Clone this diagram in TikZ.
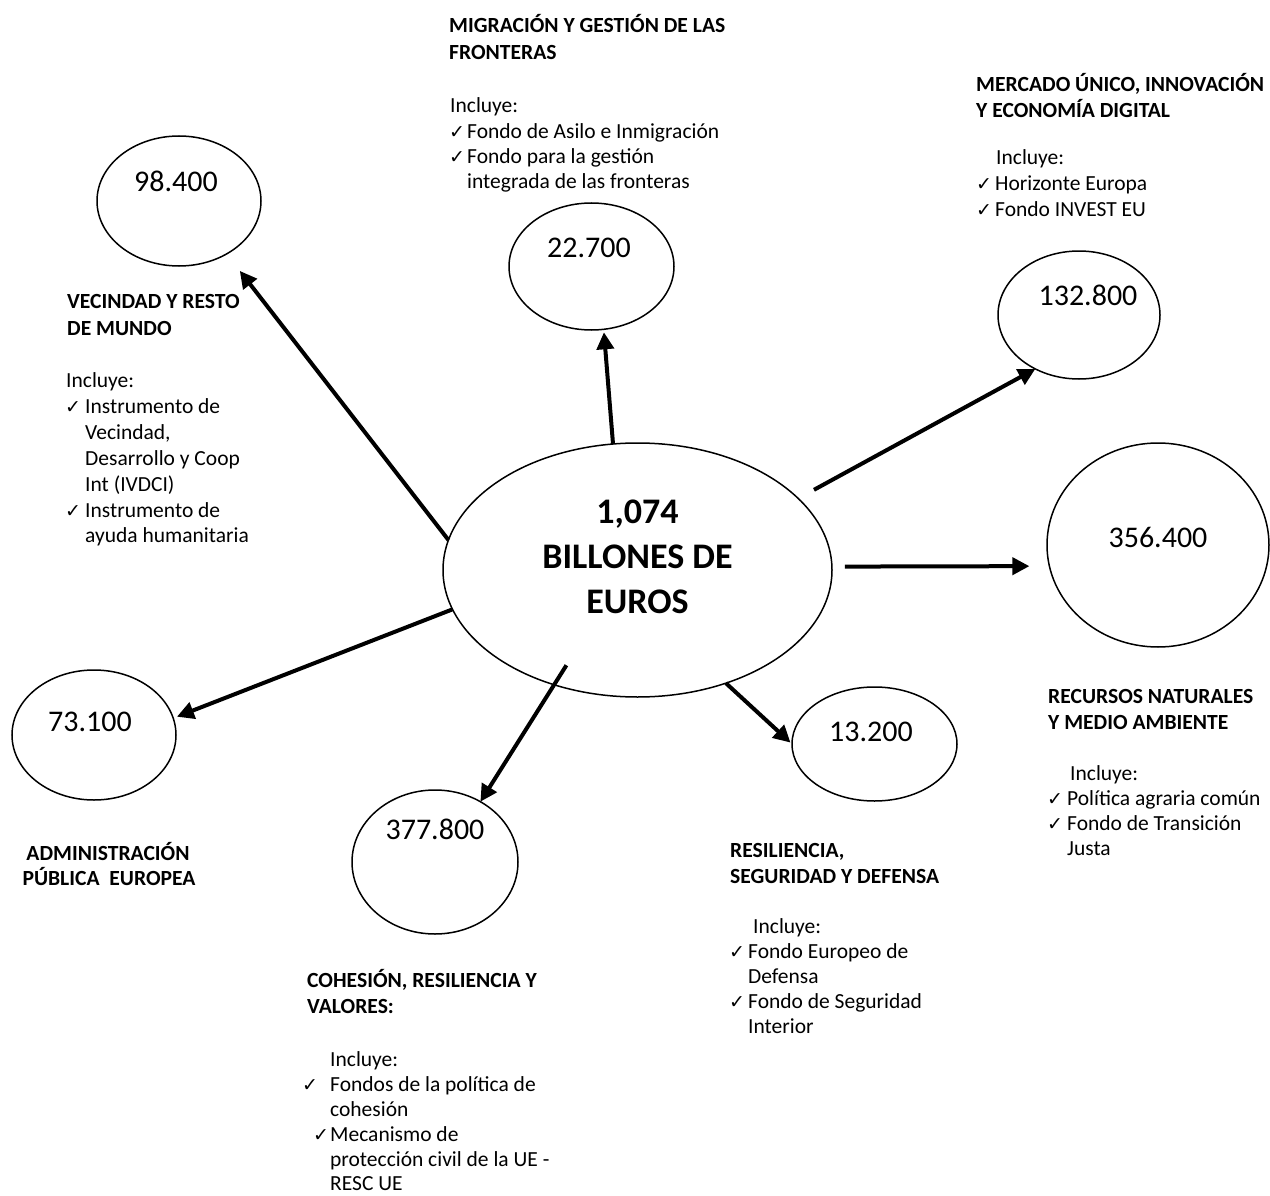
\documentclass[tikz,border=0pt]{standalone}
\usepackage{fontspec}
\setmainfont{Carlito}
\newfontfamily\ckfont{DejaVu Sans}
\usetikzlibrary{arrows.meta,shapes.geometric}
\begin{document}
\begin{tikzpicture}[x=1pt,y=-1pt,
  bub/.style={draw, ellipse, line width=1.5pt, inner sep=0pt, outer sep=0pt},
  num/.style={font=\fontsize{30}{36}\selectfont, anchor=base, inner sep=0pt},
  big/.style={font=\fontsize{36}{45}\selectfont\bfseries, anchor=base, inner sep=0pt},
  hdr/.style={font=\fontsize{21.6}{25}\selectfont\bfseries, anchor=base west, inner sep=0pt},
  hdrc/.style={font=\fontsize{21.6}{25}\selectfont\bfseries, anchor=base, inner sep=0pt},
  txt/.style={font=\fontsize{21.5}{25}\selectfont, anchor=base west, inner sep=0pt},
  ck/.style={font=\ckfont\fontsize{19}{22}\selectfont, anchor=base west, inner sep=0pt},
  arr/.style={line width=4pt, -{Triangle[length=17pt,width=17pt]}}
]
\useasboundingbox (0,0) rectangle (1270,1196);
\fill[white] (0,0) rectangle (1270,1196);

% bubbles
\node[bub, minimum width=389pt, minimum height=254pt] (c) at (637.5,570) {};
\node[bub, minimum width=164pt, minimum height=130pt] (n1) at (179,201) {};
\node[bub, minimum width=165pt, minimum height=127pt] (n2) at (591.5,266.5) {};
\node[bub, minimum width=162pt, minimum height=128pt] (n3) at (1079,315) {};
\node[bub, minimum width=222pt, minimum height=204pt] (n4) at (1158,545) {};
\node[bub, minimum width=164pt, minimum height=130pt] (n5) at (94,735) {};
\node[bub, minimum width=166pt, minimum height=144pt] (n6) at (435,862) {};
\node[bub, minimum width=165pt, minimum height=114pt] (n7) at (874.5,744) {};

% numbers
\node[num] (t1) at (176,191.7) {98.400};
\node[num] (t2) at (589,258) {22.700};
\node[num] (t3) at (1088,305) {132.800};
\node[num] (t4) at (1158,547) {356.400};
\node[num] (t5) at (90,731) {73.100};
\node[num] (t6) at (435,839) {377.800};
\node[num] (t7) at (871,741.7) {13.200};

\node[big] (c1) at (637.5,523) {1,074};
\node[big] (c2) at (637.5,568) {BILLONES DE};
\node[big] (c3) at (637.5,613) {EUROS};

% arrows
\draw[arr, shorten >=21.5pt] (c.171) -- (n1.312);
\draw[arr, shorten >=3pt] (c.101) -- (n2.281);
\draw[arr, shorten <=18pt] (c.24) -- (n3.231);
\draw[arr, shorten <=13pt, shorten >=20pt] (c.1) -- (n4.191);
\draw[arr, shorten >=4pt] (c.192) -- (n5.12);
\draw[arr, shorten <=-23pt] (c.234) -- (n6.53);
\draw[arr, shorten >=2pt] (c.308) -- (n7.180);

% Migracion
\node[hdr] (mh1) at (449,33) {MIGRACIÓN Y GESTIÓN DE LAS};
\node[hdr] (mh2) at (449,60) {FRONTERAS};
\node[txt] (mb0) at (450,113) {Incluye:};
\node[ck]  (mk1) at (449,138.5) {✓};
\node[txt] (mb1) at (467,138.5) {Fondo de Asilo e Inmigración};
\node[ck]  (mk2) at (449,164) {✓};
\node[txt] (mb2) at (467,164) {Fondo para la gestión};
\node[txt] (mb3) at (467,189) {integrada de las fronteras};

% Mercado
\node[hdr] (eh1) at (976,92) {MERCADO ÚNICO, INNOVACIÓN};
\node[hdr] (eh2) at (976,118) {Y ECONOMÍA DIGITAL};
\node[txt] (eb0) at (996,165) {Incluye:};
\node[ck]  (ek1) at (976,191) {✓};
\node[txt] (eb1) at (995,191) {Horizonte Europa};
\node[ck]  (ek2) at (976,217) {✓};
\node[txt] (eb2) at (995,217) {Fondo INVEST EU};

% Vecindad
\node[hdr] (vh1) at (67,308) {VECINDAD Y RESTO};
\node[hdr] (vh2) at (67,335) {DE MUNDO};
\node[txt] (vb0) at (66,387) {Incluye:};
\node[ck]  (vk1) at (65,413.5) {✓};
\node[txt] (vb1) at (85,413.5) {Instrumento de};
\node[txt] (vb2) at (85,439) {Vecindad,};
\node[txt] (vb3) at (85,465) {Desarrollo y Coop};
\node[txt] (vb4) at (85,491) {Int (IVDCI)};
\node[ck]  (vk2) at (65,517) {✓};
\node[txt] (vb5) at (85,517) {Instrumento de};
\node[txt] (vb6) at (85,542.5) {ayuda humanitaria};

% Recursos
\node[hdr] (rh1) at (1048,703) {RECURSOS NATURALES};
\node[hdr] (rh2) at (1048,729) {Y MEDIO AMBIENTE};
\node[txt] (rb0) at (1070,780) {Incluye:};
\node[ck]  (rk1) at (1047,805) {✓};
\node[txt] (rb1) at (1067,805) {Política agraria común};
\node[ck]  (rk2) at (1047,830) {✓};
\node[txt] (rb2) at (1067,830) {Fondo de Transición};
\node[txt] (rb3) at (1067,855) {Justa};

% Administracion
\node[hdrc] (ah1) at (108,860) {ADMINISTRACIÓN};
\node[hdrc] (ah2) at (109,885) {PÚBLICA\ \ EUROPEA};

% Resiliencia
\node[hdr] (sh1) at (730,857) {RESILIENCIA,};
\node[hdr] (sh2) at (730,883) {SEGURIDAD Y DEFENSA};
\node[txt] (sb0) at (753,933) {Incluye:};
\node[ck]  (sk1) at (729,958) {✓};
\node[txt] (sb1) at (748,958) {Fondo Europeo de};
\node[txt] (sb2) at (748,983) {Defensa};
\node[ck]  (sk2) at (729,1008) {✓};
\node[txt] (sb3) at (748,1008) {Fondo de Seguridad};
\node[txt] (sb4) at (748,1033) {Interior};

% Cohesion
\node[hdr] (hh1) at (307,987) {COHESIÓN, RESILIENCIA Y};
\node[hdr] (hh2) at (307,1013) {VALORES:};
\node[txt] (hb0) at (330,1066.5) {Incluye:};
\node[ck]  (hk1) at (302,1091.5) {✓};
\node[txt] (hb1) at (330,1091.5) {Fondos de la política de};
\node[txt] (hb2) at (330,1116.5) {cohesión};
\node[ck]  (hk2) at (313,1141.5) {✓};
\node[txt] (hb3) at (330,1141.5) {Mecanismo de};
\node[txt] (hb4) at (330,1166.5) {protección civil de la UE -};
\node[txt] (hb5) at (330,1190) {RESC UE};
\end{tikzpicture}
\end{document}
